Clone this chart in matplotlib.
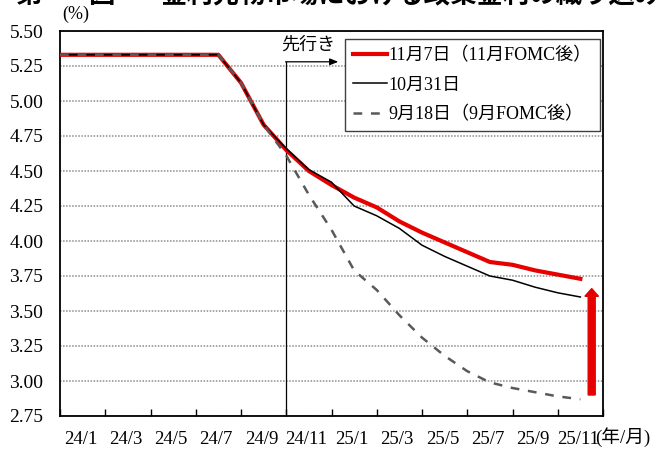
import matplotlib
matplotlib.use('Agg')
import matplotlib.pyplot as plt

plt.rcParams['font.family'] = ['Liberation Serif', 'Noto Sans CJK JP']

# months from 2024/1 (0) to 2025/12 (23)
months = list(range(24))
tick_labels = ['24/1', '24/3', '24/5', '24/7', '24/9', '24/11',
               '25/1', '25/3', '25/5', '25/7', '25/9', '25/11']

nov7 = [5.33, 5.33, 5.33, 5.33, 5.33, 5.33, 5.33, 5.33, 5.13, 4.83, 4.65, 4.50,
        4.40, 4.31, 4.24, 4.14, 4.06, 3.99, 3.92, 3.85, 3.83, 3.79, 3.76, 3.73]
oct31 = [5.33, 5.33, 5.33, 5.33, 5.33, 5.33, 5.33, 5.33, 5.13, 4.83, 4.66, 4.51,
         4.42, 4.25, 4.18, 4.09, 3.97, 3.89, 3.82, 3.75, 3.72, 3.67, 3.63, 3.60]
sep18 = [5.33, 5.33, 5.33, 5.33, 5.33, 5.33, 5.33, 5.33, 5.13, 4.83, 4.61, 4.33,
         4.08, 3.79, 3.65, 3.47, 3.31, 3.18, 3.07, 2.99, 2.95, 2.92, 2.89, 2.87]

red = '#e60000'

fig = plt.figure(figsize=(6.64, 4.51), dpi=100)
ax = fig.add_axes([60/664, 1-416/451, 543/664, 385/451])

ax.plot(months, nov7, color=red, lw=3.0, label='11月7日（11月FOMC後）', zorder=3)
ax.plot(months, oct31, color='black', lw=1.1, label='10月31日', zorder=4)
ax.plot(months, sep18, color='#595959', lw=1.8, ls=(0, (3.5, 3.5)),
        label='9月18日（9月FOMC後）', zorder=5)

ax.set_xlim(0, 24)
ax.set_ylim(2.75, 5.50)
ax.set_xticks(range(0, 25, 2))
ax.set_xticklabels([])
ax.set_xticks([i - 0.1 for i in range(1, 24, 2)], minor=True)
ax.set_xticklabels(tick_labels, minor=True)
ax.tick_params(axis='x', which='major', direction='in', length=5, width=1)
ax.tick_params(axis='x', which='minor', length=0, pad=11, labelsize=13.5)

yt = [2.75 + 0.25*i for i in range(12)]
ax.set_yticks(yt)
ax.set_yticklabels(['%.2f' % v for v in yt])
ax.tick_params(axis='y', length=0, pad=12, labelsize=14)
ax.yaxis.grid(True, color='#8c8c8c', ls=(0, (1, 1)), lw=1.1)
for s in ax.spines.values():
    s.set_color('black')
    s.set_linewidth(1.3)

# forecast marker
ax.plot([10, 10], [2.75, 5.28], color='black', lw=0.9, zorder=2)
ax.annotate('', xy=(12.3, 5.28), xytext=(9.97, 5.28),
            arrowprops=dict(arrowstyle='-|>,head_length=0.5,head_width=0.2',
                            color='black', lw=0.9, shrinkA=0, shrinkB=0))
ax.text(10.96, 5.40, '先行き', ha='center', va='center', fontsize=13,
        family=['Noto Sans CJK JP'], zorder=6)

# red arrow
ax.arrow(23.5, 2.90, 0, 3.66 - 2.90, width=0.31, head_width=0.6, head_length=0.055,
         length_includes_head=True, color=red, clip_on=False, zorder=6)

leg = ax.legend(loc='upper right', bbox_to_anchor=(0.9945, 0.979), borderaxespad=0,
                fontsize=13, handlelength=1.9, handletextpad=0.1,
                labelspacing=0.68, borderpad=0.45, fancybox=False, framealpha=1)
leg.get_frame().set_edgecolor('#404040')
leg.get_frame().set_linewidth(1.0)

fig.text(62/664, 1-14/451, '(%)', ha='left', va='center', fontsize=13)
fig.text(595/664, 1-437/451, '(年/月)', ha='left', va='center', fontsize=13.5)

# title (cut at the top of the picture)
ty = 1 - 9/451
fig.text(15/664, ty, '第', ha='left', va='bottom', fontsize=19,
         fontweight='bold', family=['Noto Sans CJK JP'])
fig.text(88/664, ty, '図', ha='left', va='bottom', fontsize=19,
         fontweight='bold', family=['Noto Sans CJK JP'])
fig.text(160/664, ty, '金利先物市場における政策金利の織り込み', ha='left',
         va='bottom', fontsize=19, fontweight='bold', family=['Noto Sans CJK JP'])

fig.savefig('out.png', dpi=100)
